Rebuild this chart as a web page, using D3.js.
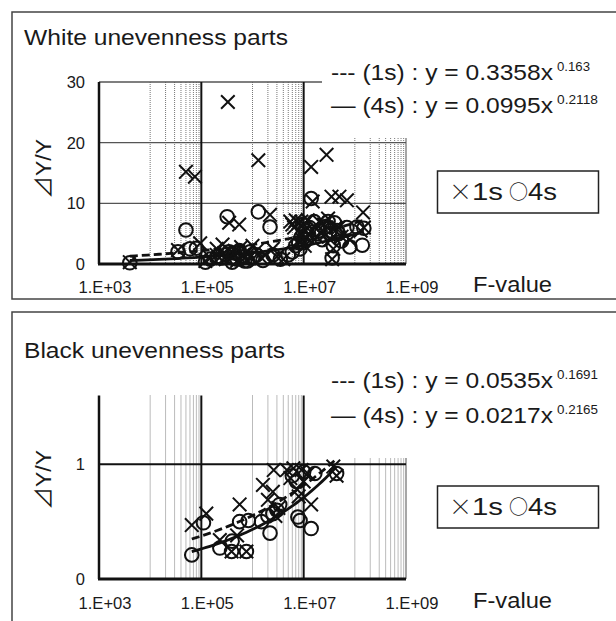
<!DOCTYPE html>
<html><head><meta charset="utf-8">
<script src="https://cdn.jsdelivr.net/npm/d3@7"></script>
<style>
body{margin:0;background:#fff}
text{font-family:"Liberation Sans",Arial,Helvetica,sans-serif;fill:#1a1a1a}
</style>
</head><body>
<svg id="c" width="616" height="621"></svg>
<script>
// ---------- data ----------
const xTickValues = [1e3, 1e5, 1e7, 1e9];
const xTickLabels = ["1.E+03", "1.E+05", "1.E+07", "1.E+09"];
const whiteYTicks = [0, 10, 20, 30];
const blackYTicks = [0, 1];
const seriesNames = ["1s", "4s"];

const whiteTitle = "White unevenness parts";
const blackTitle = "Black unevenness parts";
const whiteCoef = [0.3358, 0.0995];
const whiteExp  = [0.163, 0.2118];
const whiteCoefLabel = ["0.3358", "0.0995"];
const whiteExpLabel  = ["0.163", "0.2118"];
const blackCoef = [0.0535, 0.0217];
const blackExp  = [0.1691, 0.2165];
const blackCoefLabel = ["0.0535", "0.0217"];
const blackExpLabel  = ["0.1691", "0.2165"];

// [F-value, dY/Y]
const white1s = [
 [4.0e3,0.3],[3.5e4,2.3],[5.0e4,15.2],[7.5e4,14.4],[9.5e4,3.4],[1.2e5,0.5],[1.5e5,1.0],
 [2.0e5,1.5],[2.6e5,3.2],[3.3e5,26.7],[3.5e5,6.8],[4.0e5,1.2],[4.5e5,2.2],[5.5e5,6.5],
 [5.0e5,0.5],[6.0e5,2.8],[7.0e5,1.0],[8.0e5,2.0],[1.0e6,3.0],[1.3e6,17.1],[1.5e6,1.0],
 [2.2e6,8.1],[2.5e6,2.5],[3.0e6,1.2],[4.0e6,0.8],[5.5e6,7.0],[6.0e6,6.5],[7.0e6,7.2],
 [8.0e6,6.8],[8.5e6,3.5],[9.0e6,5.0],[1.1e7,5.5],[1.4e7,16.0],[1.5e7,10.3],[1.7e7,6.0],
 [2.0e7,7.0],[2.5e7,6.5],[2.8e7,18.0],[3.0e7,7.5],[3.5e7,11.1],[3.6e7,0.8],[3.8e7,2.5],
 [4.2e7,6.0],[5.0e7,11.1],[5.5e7,4.5],[7.0e7,10.5],[8.0e7,4.0],[1.3e8,5.5],[1.45e8,8.5],[1.5e8,6.0],
 [9.0e6,7.0],[1.0e7,6.5],[9.5e6,4.0],[1.05e7,3.0],[1.2e7,7.2],[6.5e6,6.0],[1.8e7,4.5],
 [2.2e7,5.0],[3.3e7,4.0],[4.8e7,6.0],[2.0e5,2.5],[2.8e5,1.8],[3.0e5,0.8],[3.8e5,2.0],
 [6.5e5,1.5],[9.0e5,1.2],[1.2e6,2.2],[1.8e6,1.5]
];
const white4s = [
 [4.0e3,0.2],[3.5e4,2.0],[5.0e4,5.6],[6.0e4,2.5],[8.0e4,2.6],[1.2e5,0.3],[1.5e5,0.8],
 [2.0e5,1.2],[3.2e5,7.8],[3.0e5,1.5],[4.0e5,0.3],[4.5e5,1.8],[5.0e5,0.8],[6.5e5,1.2],
 [8.0e5,0.5],[1.0e6,1.0],[1.3e6,8.6],[1.6e6,0.6],[2.2e6,6.1],[2.5e6,1.5],[3.5e6,0.8],
 [5.0e6,1.5],[6.0e6,2.0],[7.0e6,3.0],[8.0e6,3.5],[9.0e6,4.5],[1.2e7,5.0],[1.4e7,10.8],
 [1.6e7,7.0],[2.0e7,5.5],[2.3e7,4.0],[2.8e7,6.2],[3.2e7,5.0],[3.6e7,1.0],[3.8e7,3.0],
 [4.0e7,6.8],[4.5e7,5.5],[5.5e7,3.8],[7.0e7,6.0],[8.0e7,2.8],[1.1e8,6.1],[1.4e8,3.1],[1.5e8,5.9],
 [9.5e6,6.5],[1.0e7,3.5],[1.05e7,5.5],[1.15e7,4.0],[1.3e7,6.0],[1.8e7,5.0],[2.5e7,6.0],
 [3.0e7,7.0],[3.3e7,5.5],[4.8e7,5.0],[2.5e5,1.0],[3.5e5,2.0],[4.2e5,1.0],[5.5e5,2.2],
 [7.0e5,0.5],[9.0e5,2.0],[1.2e6,1.5],[8.5e6,2.5]
];
const black1s = [
 [6.5e4,0.47],[1.25e5,0.57],[2.3e5,0.34],[3.9e5,0.24],[5.6e5,0.65],[5.0e5,0.38],[7.6e5,0.24],
 [1.6e6,0.82],[2.0e6,0.69],[2.5e6,0.76],[2.8e6,0.55],[2.6e6,0.95],[4.7e6,0.95],[6.3e6,0.965],
 [7.5e6,0.78],[9.1e6,0.95],[1.0e7,0.85],[1.4e7,0.65],[1.2e7,0.92],[3.8e7,0.98],[4.4e7,0.90],
 [3.2e6,0.62],[5.5e6,0.88],[8.0e6,0.72]
];
const black4s = [
 [6.5e4,0.21],[1.1e5,0.49],[2.3e5,0.27],[3.9e5,0.24],[5.6e5,0.50],[7.6e5,0.24],[8.3e5,0.51],
 [1.5e6,0.50],[2.2e6,0.40],[2.5e6,0.57],[3.4e6,0.65],[3.0e6,0.60],[7.2e6,0.85],[7.7e6,0.54],
 [8.5e6,0.51],[1.4e7,0.44],[1.0e7,0.935],[1.65e7,0.92],[4.4e7,0.92],[6.0e6,0.90],
 [2.0e6,0.55],[4.0e5,0.33]
];

// ---------- drawing ----------
const svg = d3.select("#c");
const x = d3.scaleLog().domain([1e3, 1e9]).range([99, 406]);
const minorX = [];
[4, 6, 8].forEach(d => { for (let k = 1; k <= 9; k++) minorX.push(k * Math.pow(10, d)); });

function fitText(g, px, py, size, str, len) {
  return g.append("text").attr("x", px).attr("y", py).attr("font-size", size)
    .attr("textLength", len).attr("lengthAdjust", "spacingAndGlyphs").text(str);
}

function panel(o) {
  const g = svg.append("g");
  const y = d3.scaleLinear().domain(o.yDomain).range(o.yRange);
  g.append("rect").attr("x", 12).attr("y", o.boxY).attr("width", 700).attr("height", o.boxH)
    .attr("fill", "#fff").attr("stroke", "#444").attr("stroke-width", 1.5);
  fitText(g, 24, o.titleY, 22, o.title, o.titleLen);

  const top = o.yRange[1], bot = o.yRange[0];
  g.append("g").selectAll("line").data(minorX).join("line")
    .attr("x1", d => x(d)).attr("x2", d => x(d)).attr("y1", top).attr("y2", bot)
    .attr("stroke", "#777").attr("stroke-width", 1).attr("stroke-dasharray", "1,1");
  g.append("line").attr("x1", x(1e9)).attr("x2", x(1e9)).attr("y1", top).attr("y2", bot)
    .attr("stroke", "#777").attr("stroke-width", 1.3);
  g.append("g").selectAll("line").data(o.yTicks.filter(v => v > 0)).join("line")
    .attr("x1", x(1e3)).attr("x2", x(1e9)).attr("y1", d => y(d)).attr("y2", d => y(d))
    .attr("stroke", o.hColor).attr("stroke-width", o.hWidth);
  g.append("g").selectAll("line").data([1e5, 1e7]).join("line")
    .attr("x1", d => x(d)).attr("x2", d => x(d)).attr("y1", top).attr("y2", bot)
    .attr("stroke", "#111").attr("stroke-width", 2);
  g.append("line").attr("x1", x(1e3)).attr("x2", x(1e3)).attr("y1", top).attr("y2", bot)
    .attr("stroke", "#111").attr("stroke-width", 2.5);
  g.append("line").attr("x1", x(1e3) - 1).attr("x2", x(1e9)).attr("y1", bot).attr("y2", bot)
    .attr("stroke", "#111").attr("stroke-width", 3);

  g.append("g").selectAll("text").data(o.yTicks).join("text")
    .attr("x", 85).attr("y", d => y(d)).attr("dy", "0.36em").attr("text-anchor", "end")
    .attr("font-size", 16.5).text(d => d);
  g.append("g").selectAll("text").data(xTickValues).join("text")
    .attr("x", d => x(d) + 6).attr("y", o.xLabelY).attr("text-anchor", "middle")
    .attr("font-size", 16.5).attr("textLength", 53).attr("lengthAdjust", "spacingAndGlyphs")
    .text((d, i) => xTickLabels[i]);
  fitText(g, 473, o.fY, 22, "F-value", 79);
  const yt = g.append("text").attr("transform", `translate(51,${o.yTitleY}) rotate(-90)`)
    .attr("x", -30).attr("font-size", 22).attr("textLength", 60).attr("lengthAdjust", "spacingAndGlyphs");
  yt.append("tspan").style("font-family", "'Noto Sans CJK JP'").text("⊿");
  yt.append("tspan").text("Y/Y");

  const line = d3.line().x(d => x(d[0])).y(d => y(d[1]));
  [o.s1, o.s2].forEach((s, i) => {
    const ext = d3.extent(s, d => d[0]);
    const pts = d3.range(0, 41).map(t => {
      const f = Math.pow(10, Math.log10(ext[0]) + t / 40 * (Math.log10(ext[1]) - Math.log10(ext[0])));
      return [f, o.coef[i] * Math.pow(f, o.exp[i])];
    });
    g.append("path").attr("d", line(pts)).attr("fill", "none").attr("stroke", "#111")
      .attr("stroke-width", 2.8).attr("stroke-dasharray", i === 0 ? "8,4" : null);
  });

  const r = 6.8;
  g.append("g").selectAll("path").data(o.s1).join("path")
    .attr("transform", d => `translate(${x(d[0])},${y(d[1])})`)
    .attr("d", `M${-r},${-r}L${r},${r}M${-r},${r}L${r},${-r}`)
    .attr("stroke", "#111").attr("stroke-width", 2).attr("fill", "none");
  g.append("g").selectAll("circle").data(o.s2).join("circle")
    .attr("cx", d => x(d[0])).attr("cy", d => y(d[1])).attr("r", 6.8)
    .attr("stroke", "#111").attr("stroke-width", 2).attr("fill", "none");

  g.append("rect").attr("x", 322).attr("y", o.boxY + 40).attr("width", 300)
    .attr("height", o.coverBottom - o.boxY - 40).attr("fill", "#fff");
  const eq = ["--- (1s) : y = ", "— (4s) : y = "];
  eq.forEach((s, i) => {
    fitText(g, 331, o.eqY[i], 22.5, s + o.coefLabel[i] + "x", 222);
    fitText(g, 557, o.eqY[i] - 9, 13, o.expLabel[i], o.expLabel[i].length === 5 ? 33 : 41);
  });

  g.append("rect").attr("x", 437.5).attr("y", o.legY).attr("width", 161).attr("height", 42)
    .attr("fill", "#fff").attr("stroke", "#222").attr("stroke-width", 1.5);
  const by = o.legY + 29;
  g.append("text").attr("x", 460.5).attr("y", by).attr("text-anchor", "middle")
    .style("font-family", "'Noto Sans CJK JP'").attr("font-weight", 300).attr("font-size", 23).text("×");
  fitText(g, 472, by, 23, seriesNames[0], 31);
  g.append("text").attr("x", 518.5).attr("y", by - 1).attr("text-anchor", "middle")
    .style("font-family", "'Noto Sans CJK JP'").attr("font-size", 19).text("○");
  fitText(g, 528, by, 23, seriesNames[1], 29);
}

panel({title: whiteTitle, titleLen: 264, boxY: 12, boxH: 287, titleY: 45, eqY: [80, 113],
  yDomain: [0, 30], yRange: [264, 82], yTicks: whiteYTicks, hColor: "#555", hWidth: 1.3,
  xLabelY: 293, fY: 292, yTitleY: 169, coverBottom: 138, legY: 171,
  s1: white1s, s2: white4s, coef: whiteCoef, exp: whiteExp,
  coefLabel: whiteCoefLabel, expLabel: whiteExpLabel});
panel({title: blackTitle, titleLen: 261, boxY: 312, boxH: 400, titleY: 358, eqY: [388, 423],
  yDomain: [0, 1.6], yRange: [579, 395.5], yTicks: blackYTicks, hColor: "#111", hWidth: 2,
  xLabelY: 609, fY: 608, yTitleY: 480, coverBottom: 458, legY: 486,
  s1: black1s, s2: black4s, coef: blackCoef, exp: blackExp,
  coefLabel: blackCoefLabel, expLabel: blackExpLabel});
</script>
</body></html>
